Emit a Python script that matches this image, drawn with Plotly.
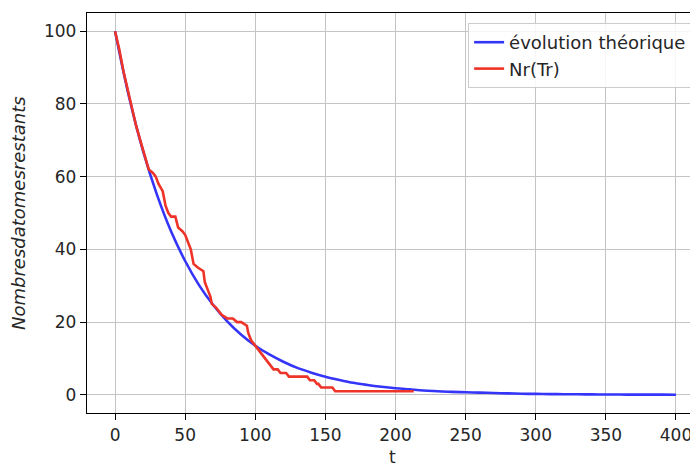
import plotly.graph_objects as go

# Theoretical evolution
t_theo = list(range(0, 401, 10))
n_theo = [100, 81.9, 67.0, 54.9, 44.9, 36.8, 30.1, 24.7, 20.2, 16.5,
          13.5, 11.1, 9.1, 7.4, 6.1, 5.0, 4.1, 3.3, 2.7, 2.2,
          1.8, 1.5, 1.2, 1.0, 0.8, 0.7, 0.6, 0.5, 0.4, 0.3,
          0.25, 0.2, 0.17, 0.14, 0.11, 0.09, 0.07, 0.06, 0.05, 0.04, 0.03]

# Simulated remaining atoms Nr(Tr)
t_sim = [0, 3, 6, 9, 12, 15, 18, 21, 24, 27, 29, 31, 34, 36, 38, 40, 43, 45,
         48, 50, 52, 54, 56, 59, 63, 64, 66, 68, 69, 72, 76, 80, 84, 87, 90,
         94, 95, 97, 99, 101, 103, 105, 107, 109, 111, 113, 116, 118, 122,
         124, 137, 139, 142, 144, 145, 147, 155, 157, 213]
n_sim = [100, 95, 89, 84, 79, 74, 70, 66, 62, 61, 60, 58, 56, 52, 50, 49, 49,
         46, 45, 44, 42, 40, 36, 35, 34, 31, 29, 27, 25, 24, 22, 21, 21, 20,
         20, 19, 17, 15, 14, 13, 12, 11, 10, 9, 8, 7, 7, 6, 6,
         5, 5, 4, 4, 3, 3, 2, 2, 1, 1]

x_ticks = [0, 50, 100, 150, 200, 250, 300, 350, 400]
y_ticks = [0, 20, 40, 60, 80, 100]

FONT = "DejaVu Sans"
TXT = "#262626"
FS = 17

fig = go.Figure()
fig.add_trace(go.Scatter(x=t_theo, y=n_theo, mode="lines", name="évolution théorique",
                         line=dict(color="#3535fa", width=2.6, shape="spline")))
fig.add_trace(go.Scatter(x=t_sim, y=n_sim, mode="lines", name="Nr(Tr)",
                         line=dict(color="#ee3328", width=2.6)))

axis_common = dict(showgrid=True, gridcolor="#c4c4c4", gridwidth=1.4,
                   showline=True, linecolor="black", linewidth=1.3, mirror=True,
                   ticks="outside", ticklen=6, tickwidth=1.3, tickcolor="black",
                   zeroline=False, automargin=False,
                   tickfont=dict(family=FONT, size=FS, color=TXT))

fig.update_xaxes(range=[-20, 415], tickvals=x_ticks, **axis_common)
fig.update_yaxes(range=[-5, 105], tickvals=y_ticks, **axis_common)

fig.add_annotation(text="t", x=0.5, y=0, xref="paper", yref="paper",
                   xanchor="center", yanchor="middle", yshift=-44, showarrow=False,
                   borderpad=0, font=dict(family=FONT, size=FS, color=TXT))
fig.add_annotation(text="<i>Nombresdatomesrestants</i>", x=0, y=0.5, xref="paper", yref="paper",
                   xanchor="center", yanchor="middle", xshift=-69, textangle=-90, showarrow=False,
                   font=dict(family=FONT, size=18, color=TXT))

# the page adds an 8px body margin, so the figure is sized/shifted to compensate
fig.update_layout(
    width=690, height=458,
    margin=dict(l=79, r=1, t=5, b=53),
    paper_bgcolor="white", plot_bgcolor="white",
    font=dict(family=FONT, size=FS, color=TXT),
    showlegend=True,
    legend=dict(x=0.992, y=0.975, xanchor="right", yanchor="top",
                bgcolor="rgba(255,255,255,0.85)", bordercolor="#cccccc", borderwidth=1,
                font=dict(family=FONT, size=18, color=TXT)),
)

fig.write_html("out.html")
